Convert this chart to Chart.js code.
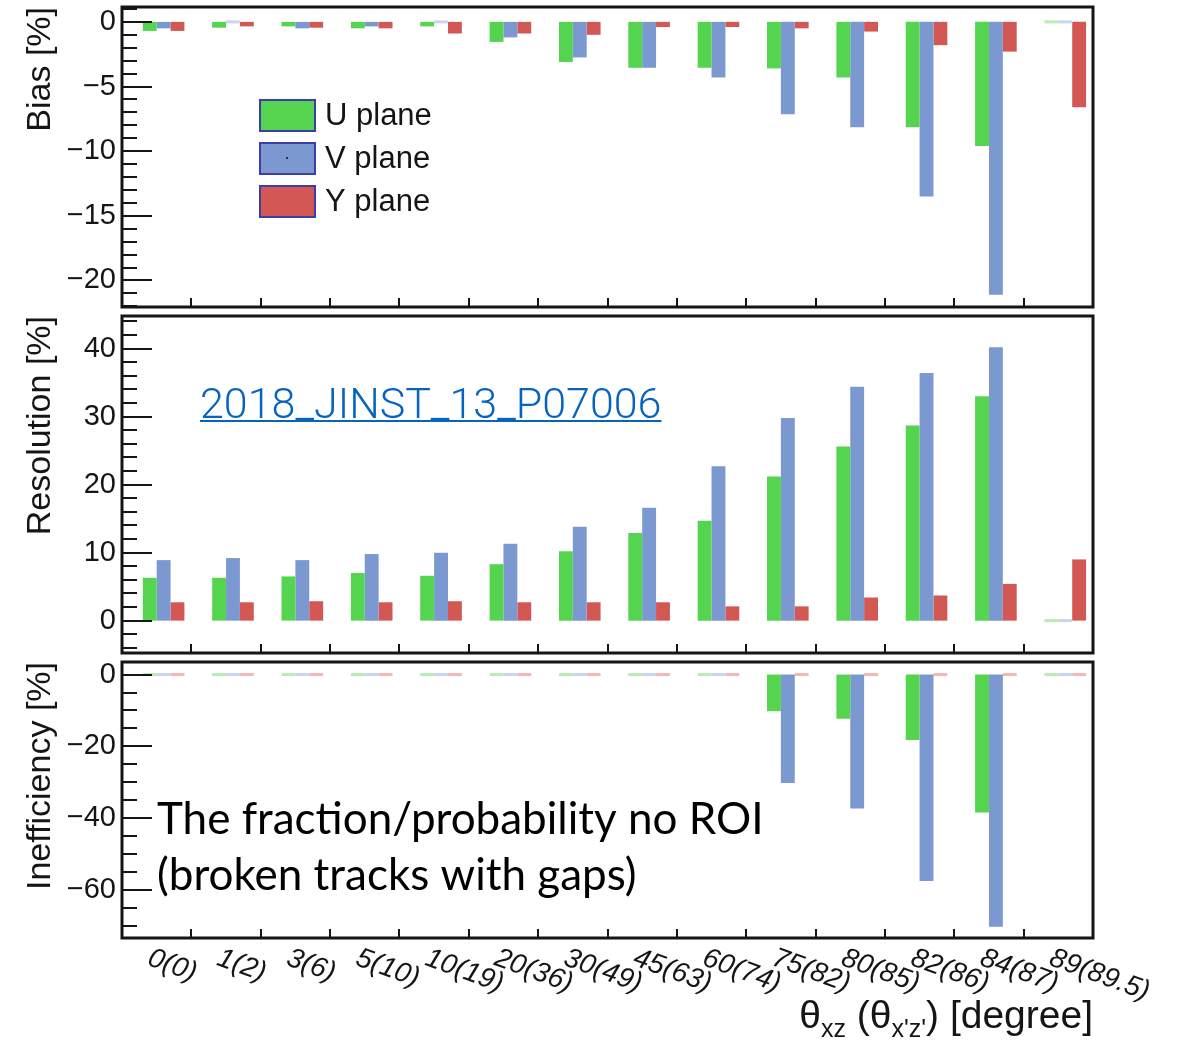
<!DOCTYPE html>
<html>
<head>
<meta charset="utf-8">
<script src="https://cdn.jsdelivr.net/npm/chart.js@4.4.1/dist/chart.umd.min.js"></script>
<style>
  body { margin: 0; background: #fff; }
  #wrap { position: relative; width: 1178px; height: 1041px; overflow: hidden; }
  canvas { position: absolute; left: 0; top: 0; }
</style>
</head>
<body>
<div id="wrap">
  <canvas id="bias" width="1178" height="1041"></canvas>
  <canvas id="res" width="1178" height="1041"></canvas>
  <canvas id="ineff" width="1178" height="1041"></canvas>
</div>
<script>
const categories = ['0(0)', '1(2)', '3(6)', '5(10)', '10(19)', '20(36)', '30(49)', '45(63)',
                    '60(74)', '75(82)', '80(85)', '82(86)', '84(87)', '89(89.5)'];
const planes = ['U plane', 'V plane', 'Y plane'];

// bias [%]
const biasU = [-0.7, -0.45, -0.35, -0.5, -0.35, -1.55, -3.1, -3.55, -3.55, -3.6, -4.3, -8.15, -9.6, 0];
const biasV = [-0.5, 0, -0.5, -0.35, 0, -1.2, -2.75, -3.55, -4.3, -7.15, -8.15, -13.5, -21.1, 0];
const biasY = [-0.7, -0.35, -0.45, -0.5, -0.9, -0.9, -1.0, -0.4, -0.4, -0.5, -0.75, -1.8, -2.3, -6.6];

// resolution [%]
const resU = [6.3, 6.3, 6.5, 7.0, 6.6, 8.3, 10.2, 12.9, 14.7, 21.2, 25.6, 28.7, 33.0, 0];
const resV = [8.9, 9.2, 8.9, 9.8, 10.0, 11.3, 13.8, 16.6, 22.7, 29.8, 34.4, 36.4, 40.2, 0];
const resY = [2.7, 2.7, 2.85, 2.7, 2.85, 2.7, 2.7, 2.7, 2.1, 2.1, 3.4, 3.7, 5.4, 9.0];

// inefficiency [%]
const ineffU = [0, 0, 0, 0, 0, 0, 0, 0, 0, -10.2, -12.3, -18.2, -38.4, 0];
const ineffV = [0, 0, 0, 0, 0, 0, 0, 0, 0, -30.2, -37.3, -57.5, -70.3, 0];
const ineffY = [0, 0, 0, 0, 0, 0, 0, 0, 0, 0, 0, 0, 0, 0];

const biasTicks = [0, -5, -10, -15, -20];
const resTicks = [0, 10, 20, 30, 40];
const ineffTicks = [0, -20, -40, -60];

const colors = ['#55d450', '#7b98d1', '#d35753'];
const pale = ['#b8edb5', '#c9d4ee', '#f1b8b6'];
const ink = '#151515';
const FONT = '"Liberation Sans", Arial, sans-serif';

const framePlugin = {
  id: 'frame',
  afterDraw(chart, args, o) {
    const {ctx, chartArea: a} = chart;
    const x = chart.scales.x, y = chart.scales.y;
    ctx.save();
    ctx.strokeStyle = ink;
    ctx.fillStyle = ink;

    // ticks on the left axis and at the bin edges
    ctx.lineWidth = 2;
    ctx.beginPath();
    for (let k = Math.ceil(y.min / o.minor); k * o.minor <= y.max; k++) {
      const v = k * o.minor;
      const py = Math.round(y.getPixelForValue(v));
      ctx.moveTo(a.left, py);
      ctx.lineTo(a.left + (o.ticks.includes(v) ? 30 : 15), py);
    }
    for (let i = 0; i < categories.length - 1; i++) {
      const px = Math.round((x.getPixelForValue(i) + x.getPixelForValue(i + 1)) / 2);
      ctx.moveTo(px, a.bottom);
      ctx.lineTo(px, a.bottom - 9);
    }
    ctx.stroke();

    ctx.lineWidth = 3;
    ctx.strokeRect(a.left, a.top, a.right - a.left, a.bottom - a.top);

    // y tick labels
    ctx.font = '29px ' + FONT;
    ctx.textAlign = 'right';
    ctx.textBaseline = 'middle';
    o.ticks.forEach(v => {
      ctx.fillText(v < 0 ? '\u2212' + Math.abs(v) : String(v), a.left - 6, y.getPixelForValue(v));
    });

    // y title
    ctx.save();
    ctx.translate(41, a.top);
    ctx.rotate(-Math.PI / 2);
    ctx.font = '34px ' + FONT;
    ctx.fillText(o.title, 0, 0);
    ctx.restore();

    if (o.legend) {
      ctx.font = '31px ' + FONT;
      ctx.textAlign = 'left';
      planes.forEach((name, i) => {
        const top = 100 + i * 43;
        ctx.fillStyle = colors[i];
        ctx.fillRect(260, top, 55, 31);
        ctx.strokeStyle = '#3c3caa';
        ctx.lineWidth = 2;
        ctx.strokeRect(260, top, 55, 31);
        ctx.fillStyle = ink;
        ctx.fillText(name, 325, top + 16);
      });
      ctx.fillStyle = '#333';
      ctx.fillRect(286, 157, 2, 2);
    }

    if (o.ref) {
      ctx.font = '300 43px Roboto, ' + FONT;
      ctx.fillStyle = '#0563c1';
      ctx.textAlign = 'left';
      ctx.textBaseline = 'alphabetic';
      ctx.fillText(o.ref, 200, 418);
      const w = ctx.measureText(o.ref).width;
      ctx.fillRect(200, 420, w, 2);
    }

    if (o.note) {
      ctx.font = '44px Lato, sans-serif';
      ctx.fillStyle = '#000';
      ctx.textAlign = 'left';
      ctx.textBaseline = 'alphabetic';
      o.note.forEach((line, i) => ctx.fillText(line, 157, 834 + i * 56));
    }

    if (o.xLabels) {
      ctx.font = 'italic 28px ' + FONT;
      ctx.fillStyle = ink;
      ctx.textAlign = 'left';
      ctx.textBaseline = 'top';
      categories.forEach((lab, i) => {
        ctx.save();
        ctx.translate(x.getPixelForValue(i) - 3, a.bottom + 6);
        ctx.rotate(0.35);
        ctx.fillText(lab, 0, 0);
        ctx.restore();
      });
      // axis title: theta_xz (theta_x'z') [degree]
      const parts = [['\u03b8', 39, 0], ['xz', 25, 9], [' (\u03b8', 39, 0], ["x'z'", 25, 9], [') [degree]', 39, 0]];
      ctx.textBaseline = 'alphabetic';
      let total = 0;
      parts.forEach(p => { ctx.font = p[1] + 'px ' + FONT; total += ctx.measureText(p[0]).width; });
      let cx = a.right - total;
      parts.forEach(p => {
        ctx.font = p[1] + 'px ' + FONT;
        ctx.fillText(p[0], cx, 1028 + p[2]);
        cx += ctx.measureText(p[0]).width;
      });
    }
    ctx.restore();
  }
};

function fill(i) {
  return c => (c.raw === 0 ? pale[i] : colors[i]);
}

function makePanel(id, series, yMin, yMax, top, bottom, axis) {
  return new Chart(document.getElementById(id), {
    type: 'bar',
    data: {
      labels: categories,
      datasets: [
        // empty spacer slot: ROOT draws the bars from 0.3 to 0.9 of each bin
        { label: '', data: [] },
        { label: planes[0], data: series[0], backgroundColor: fill(0) },
        { label: planes[1], data: series[1], backgroundColor: fill(1) },
        { label: planes[2], data: series[2], backgroundColor: fill(2) }
      ]
    },
    options: {
      responsive: false,
      animation: false,
      layout: { padding: { left: 122, right: 85, top: top, bottom: 1041 - bottom } },
      datasets: { bar: { categoryPercentage: 0.8, barPercentage: 1, minBarLength: 3, borderWidth: 0 } },
      scales: {
        x: { display: false },
        y: { display: false, min: yMin, max: yMax }
      },
      plugins: { legend: { display: false }, tooltip: { enabled: false }, frame: axis }
    },
    plugins: [framePlugin]
  });
}

makePanel('bias', [biasU, biasV, biasY], -22.05, 1.15, 7, 307,
  { title: 'Bias [%]', ticks: biasTicks, minor: 1, legend: true });
makePanel('res', [resU, resV, resY], -4.76, 44.8, 316, 653,
  { title: 'Resolution [%]', ticks: resTicks, minor: 2, ref: '2018_JINST_13_P07006' });
makePanel('ineff', [ineffU, ineffV, ineffY], -73.4, 3.5, 662, 938,
  { title: 'Inefficiency [%]', ticks: ineffTicks, minor: 5, xLabels: true,
    note: ['The fraction/probability no ROI', '(broken tracks with gaps)'] });
</script>
</body>
</html>
